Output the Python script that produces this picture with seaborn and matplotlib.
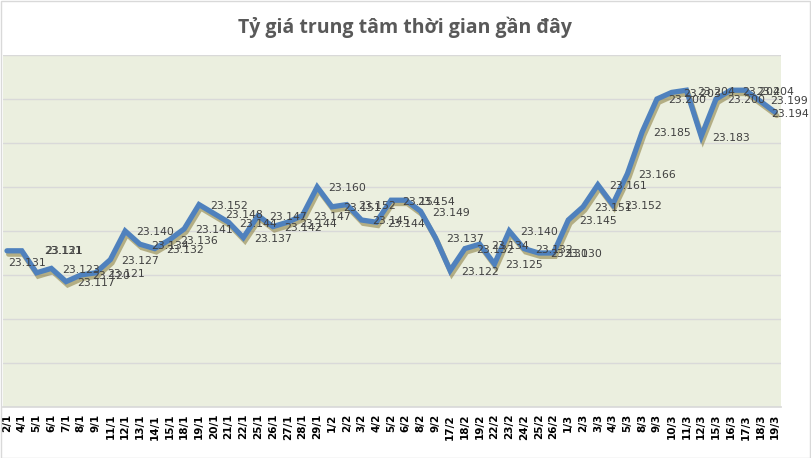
import matplotlib
matplotlib.use("Agg")
import matplotlib.pyplot as plt
import matplotlib.patheffects as pe
import numpy as np
import pandas as pd
import seaborn as sns

dates = ["2/1", "4/1", "5/1", "6/1", "7/1", "8/1", "9/1", "11/1", "12/1", "13/1",
         "14/1", "15/1", "18/1", "19/1", "20/1", "21/1", "22/1", "25/1", "26/1", "27/1",
         "28/1", "29/1", "1/2", "2/2", "3/2", "4/2", "5/2", "6/2", "8/2", "9/2",
         "17/2", "18/2", "19/2", "22/2", "23/2", "24/2", "25/2", "26/2", "1/3", "2/3",
         "3/3", "4/3", "5/3", "8/3", "9/3", "10/3", "11/3", "12/3", "15/3", "16/3",
         "17/3", "18/3", "19/3"]
rates = [23.131, 23.131, 23.121, 23.123, 23.117, 23.120, 23.121, 23.127, 23.140, 23.134,
         23.132, 23.136, 23.141, 23.152, 23.148, 23.144, 23.137, 23.147, 23.142, 23.144,
         23.147, 23.160, 23.151, 23.152, 23.145, 23.144, 23.154, 23.154, 23.149, 23.137,
         23.122, 23.132, 23.134, 23.125, 23.140, 23.132, 23.130, 23.130, 23.145, 23.151,
         23.161, 23.152, 23.166, 23.185, 23.200, 23.203, 23.204, 23.183, 23.200, 23.204,
         23.204, 23.199, 23.194]
title = "Tỷ giá trung tâm thời gian gần đây"

df = pd.DataFrame({"idx": np.arange(len(dates)), "date": dates, "rate": rates})

sns.set_theme(style="white")
plt.rcParams["font.family"] = ["DejaVu Sans"]

fig = plt.figure(figsize=(8.11, 4.58), dpi=100)
fig.patch.set_facecolor("white")
ax = fig.add_axes([3 / 811, 1 - 407 / 458, 778 / 811, 352 / 458])
ax.set_facecolor("#EBEFDF")

sns.lineplot(data=df, x="idx", y="rate", ax=ax, color="#4F81BD", linewidth=3.8,
             sort=False, legend=False)
line = ax.lines[0]
line.set_solid_joinstyle("miter")
line.set_path_effects([
    pe.SimpleLineShadow(offset=(1.2, -2.4), shadow_color="#7d6f2a", alpha=0.5),
    pe.Normal(),
])

ax.set_ylim(23.06, 23.22)
ax.set_xlim(-0.27, len(dates) - 1 + 0.4)
ax.set_yticks(np.arange(23.06, 23.2201, 0.02))
ax.yaxis.grid(True, color="#D9D9D9", linewidth=1)
ax.xaxis.grid(False)
ax.set_yticklabels([])
ax.tick_params(axis="y", length=0)
ax.set_xticks(df["idx"])
ax.set_xticklabels(dates, rotation=90, fontsize=7.5, fontweight="bold", color="black")
ax.tick_params(axis="x", length=0, pad=5)
ax.set_xlabel("")
ax.set_ylabel("")
for s in ["top", "right", "left"]:
    ax.spines[s].set_visible(False)
ax.spines["bottom"].set_color("#D9D9D9")

# data labels (Excel-style, mostly to the right of the points)
special = {0: (1, -8.5), 1: (16, 0), 2: (6, 16), 51: (7, 0), 52: (-2.5, -1.5)}
for i, v in enumerate(rates):
    dx, dy = special.get(i, (8, -1))
    ax.annotate(f"{v:.3f}", (i, v), xytext=(dx, dy), textcoords="offset points",
                ha="left", va="center", fontsize=7.8, color="#404040", clip_on=False)

fig.text(0.5, 1 - 27 / 458, title, ha="center", va="center", fontsize=14,
         fontweight="bold", color="#595959", family=["Open Sans", "DejaVu Sans"])

border = plt.Rectangle((0.001, 0.001), 0.998, 0.997, transform=fig.transFigure,
                       fill=False, edgecolor="#D9D9D9", linewidth=1)
fig.add_artist(border)

fig.savefig("out.png", dpi=100)
